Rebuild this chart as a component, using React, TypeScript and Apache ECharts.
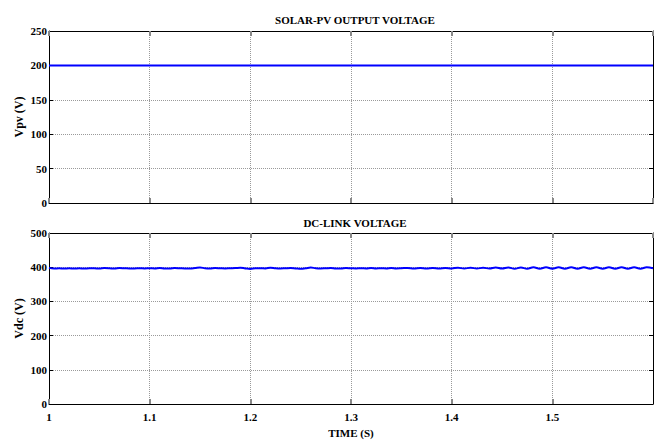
import React, { useEffect, useRef } from "react";
import * as echarts from "echarts";

// Solar-PV output voltage (V) over time (s)
const pvTime = [1.0, 1.6];
const pvVoltage = [200, 200];

// DC-link voltage (V): settled region, then a growing ripple
const dcTime = [
  1.0, 1.005, 1.01, 1.015, 1.02, 1.025, 1.03, 1.035, 1.04, 1.045, 1.05, 1.055, 1.06, 1.065, 1.07,
  1.075, 1.08, 1.085, 1.09, 1.095, 1.1, 1.105, 1.11, 1.115, 1.12, 1.125, 1.13, 1.135, 1.14, 1.145,
  1.15, 1.155, 1.16, 1.165, 1.17, 1.175, 1.18, 1.185, 1.19, 1.195, 1.2, 1.205, 1.21, 1.215, 1.22,
  1.225, 1.23, 1.235, 1.24, 1.245, 1.25, 1.255, 1.26, 1.265, 1.27, 1.275, 1.28, 1.285, 1.29, 1.295,
  1.3, 1.305, 1.31, 1.315, 1.32, 1.325, 1.33, 1.335, 1.34, 1.345, 1.35,
  1.35625, 1.3625, 1.36875, 1.375, 1.38125, 1.3875, 1.39375, 1.4, 1.40625, 1.4125, 1.41875, 1.425,
  1.43125, 1.4375, 1.44375, 1.45, 1.45625, 1.4625, 1.46875, 1.475, 1.48125, 1.4875, 1.49375, 1.5,
  1.50625, 1.5125, 1.51875, 1.525, 1.53125, 1.5375, 1.54375, 1.55, 1.55625, 1.5625, 1.56875, 1.575,
  1.58125, 1.5875, 1.59375, 1.6,
];
const dcVoltage = [
  398, 396, 397, 396, 397, 396, 397, 396, 397, 397, 396, 397.5, 397, 396, 397.5,
  397, 396.5, 396.5, 397, 396.5, 397, 396.5, 397.5, 396.5, 396.5, 397.5, 397, 396.5, 396.5, 397.5,
  399, 397, 396.5, 397.5, 397, 396.5, 397, 397.5, 398.5, 396.5, 395, 397, 397, 396.5, 398.5,
  397, 396.5, 397, 397.5, 396.5, 395.5, 397, 399, 397, 396.5, 397, 397.5, 396.5, 396.5, 397.5,
  397, 396.5, 397, 396.5, 397.5, 396.5, 397, 396.5, 397.5, 396.5, 397,
  398, 396.5, 398, 396.5, 398, 396, 398, 396.5, 398.5, 396, 398.5, 396,
  398.5, 396, 399, 396, 399, 395.5, 399, 395.5, 399.5, 395.5, 399.5, 395.5,
  399.5, 395.5, 399.5, 395.5, 399.5, 395.5, 399.5, 395.5, 399.5, 395.5, 399.5, 395.5,
  399.5, 395.5, 399.5, 397,
];

const xTicks = { min: 1, max: 1.6, interval: 0.1 };
const pvAxis = { min: 0, max: 250, interval: 50 };
const dcAxis = { min: 0, max: 500, interval: 100 };

const FONT = "'Liberation Serif', 'DejaVu Serif', serif";

export default function App() {
  const ref = useRef<HTMLDivElement>(null);

  useEffect(() => {
    if (!ref.current) return;
    const chart = echarts.init(ref.current, null, { renderer: "svg" });

    const grids = [
      { left: 49, right: 1, top: 31, height: 172 },
      { left: 49, right: 1, top: 233, height: 171 },
    ];

    const splitDotted = { show: true, lineStyle: { color: "#9a9a9a", type: "dotted" as const, width: 1 } };
    const tickLabel = { color: "#000", fontFamily: FONT, fontWeight: "bold" as const, fontSize: 11 };

    const xAxisFor = (gridIndex: number, showLabel: boolean) => [
      {
        type: "value",
        gridIndex,
        ...xTicks,
        position: "bottom",
        axisLine: { show: true, onZero: false, lineStyle: { color: "#000", width: 1 } },
        axisTick: { show: true, inside: true, length: 5, lineStyle: { color: "#888", width: 2 } },
        axisLabel: {
          show: showLabel,
          ...tickLabel,
          margin: 7,
          showMaxLabel: false,
          formatter: (v: number) => (Math.abs(v - 1) < 1e-9 ? "1" : v.toFixed(1)),
        },
        splitLine: splitDotted,
        name: showLabel ? "TIME (S)" : "",
        nameLocation: "middle",
        nameGap: 23,
        nameMoveOverlap: false,
        nameTextStyle: { color: "#000", fontFamily: FONT, fontWeight: "bold", fontSize: 11 },
      },
      {
        type: "value",
        gridIndex,
        ...xTicks,
        position: "top",
        axisLine: { show: true, onZero: false, lineStyle: { color: "#000", width: 1 } },
        axisTick: { show: true, inside: true, length: 5, lineStyle: { color: "#888", width: 2 } },
        axisLabel: { show: false },
        splitLine: { show: false },
      },
    ];

    const yAxisFor = (gridIndex: number, range: typeof pvAxis, name: string) => [
      {
        type: "value",
        gridIndex,
        ...range,
        position: "left",
        axisLine: { show: true, onZero: false, lineStyle: { color: "#000", width: 1 } },
        axisTick: { show: true, inside: true, length: 4, lineStyle: { color: "#000" } },
        axisLabel: { ...tickLabel, margin: 2 },
        splitLine: splitDotted,
        name,
        nameLocation: "middle",
        nameGap: 24,
        nameMoveOverlap: false,
        nameRotate: 90,
        nameTextStyle: { color: "#000", fontFamily: FONT, fontWeight: "bold", fontSize: 12 },
      },
      {
        type: "value",
        gridIndex,
        ...range,
        position: "right",
        axisLine: { show: true, onZero: false, lineStyle: { color: "#000", width: 1 } },
        axisTick: { show: true, inside: true, length: 4, lineStyle: { color: "#000" } },
        axisLabel: { show: false },
        splitLine: { show: false },
      },
    ];

    chart.setOption({
      animation: false,
      backgroundColor: "#fff",
      title: [
        {
          text: "SOLAR-PV OUTPUT VOLTAGE",
          left: 350,
          top: 9,
          textAlign: "center",
          textStyle: { color: "#000", fontFamily: FONT, fontWeight: "bold", fontSize: 11 },
        },
        {
          text: "DC-LINK VOLTAGE",
          left: 350,
          top: 212,
          textAlign: "center",
          textStyle: { color: "#000", fontFamily: FONT, fontWeight: "bold", fontSize: 11 },
        },
      ],
      grid: grids,
      xAxis: [...xAxisFor(0, false), ...xAxisFor(1, true)],
      yAxis: [...yAxisFor(0, pvAxis, "Vpv (V)"), ...yAxisFor(1, dcAxis, "Vdc (V)")],
      series: [
        {
          type: "line",
          xAxisIndex: 0,
          yAxisIndex: 0,
          data: pvTime.map((t, i) => [t, pvVoltage[i]]),
          showSymbol: false,
          lineStyle: { color: "#0000ff", width: 2 },
        },
        {
          type: "line",
          xAxisIndex: 2,
          yAxisIndex: 2,
          data: dcTime.map((t, i) => [t, dcVoltage[i]]),
          showSymbol: false,
          smooth: 0.4,
          lineStyle: { color: "#0000ff", width: 2 },
        },
      ],
    });

    return () => chart.dispose();
  }, []);

  return (
    <div
      ref={ref}
      style={{ position: "fixed", left: 0, top: 0, width: 654, height: 441, background: "#fff" }}
    />
  );
}
